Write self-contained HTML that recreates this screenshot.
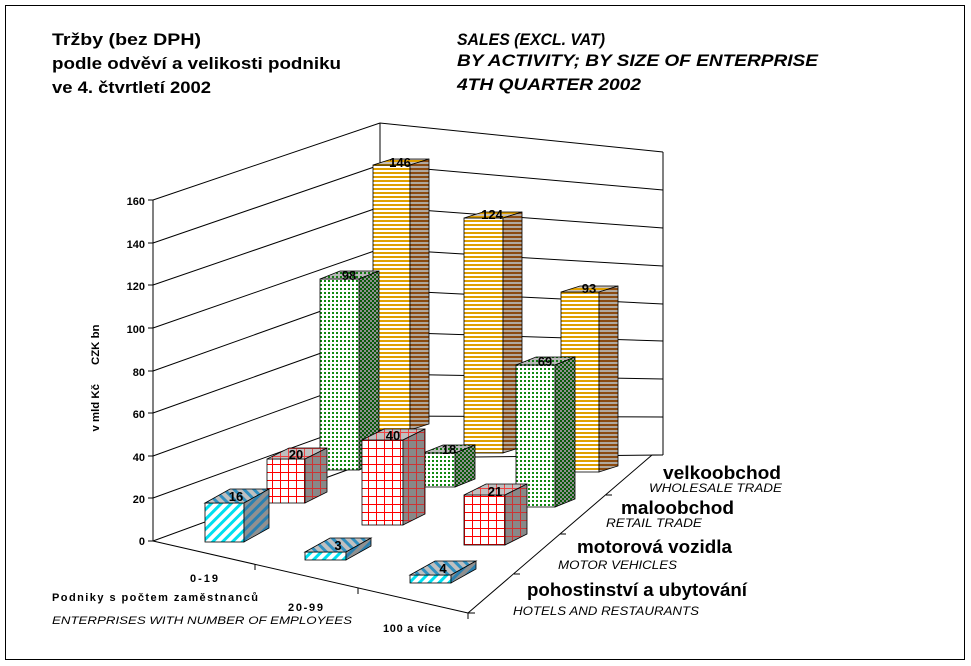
<!DOCTYPE html>
<html><head><meta charset="utf-8"><style>
html,body{margin:0;padding:0;background:#fff;width:971px;height:666px;overflow:hidden}
text{font-family:"Liberation Sans",sans-serif}
</style></head><body>
<svg width="971" height="666" viewBox="0 0 971 666" xmlns="http://www.w3.org/2000/svg">
<defs>
<pattern id="oF" width="4" height="4" patternUnits="userSpaceOnUse"><rect width="4" height="4" fill="#fff"/><rect width="4" height="2" fill="#e0a000"/></pattern>
<pattern id="oS" width="4" height="4" patternUnits="userSpaceOnUse"><rect width="4" height="4" fill="#b0a8a0"/><rect width="4" height="2" fill="#8a4a10"/></pattern>
<pattern id="oT" width="4" height="4" patternUnits="userSpaceOnUse"><rect width="4" height="4" fill="#c8c0b8"/><rect width="4" height="2" fill="#e0a000"/></pattern>
<pattern id="gF" width="4" height="4" patternUnits="userSpaceOnUse"><rect width="4" height="4" fill="#fff"/><rect width="2" height="2" fill="#118811"/></pattern>
<pattern id="gS" width="4" height="4" patternUnits="userSpaceOnUse"><rect width="4" height="4" fill="#909090"/><rect width="2" height="2" fill="#0a5a0a"/><rect x="2" y="2" width="2" height="2" fill="#0a5a0a"/></pattern>
<pattern id="gT" width="4" height="4" patternUnits="userSpaceOnUse"><rect width="4" height="4" fill="#b8b8b8"/><rect width="2" height="2" fill="#117711"/></pattern>
<pattern id="rF" width="8" height="8" patternUnits="userSpaceOnUse"><rect width="8" height="8" fill="#fff"/><rect width="8" height="1" fill="#f00"/><rect width="1" height="8" fill="#f00"/></pattern>
<pattern id="rS" width="8" height="8" patternUnits="userSpaceOnUse"><rect width="8" height="8" fill="#888"/><rect width="8" height="1" fill="#c33"/><rect width="1" height="8" fill="#c33"/></pattern>
<pattern id="rT" width="8" height="8" patternUnits="userSpaceOnUse"><rect width="8" height="8" fill="#c0c0c0"/><rect width="8" height="1" fill="#e44"/><rect width="1" height="8" fill="#e44"/></pattern>
<pattern id="cF" width="7" height="7" patternUnits="userSpaceOnUse" patternTransform="rotate(45)"><rect width="7" height="7" fill="#fff"/><rect width="3" height="7" fill="#00e0f0"/></pattern>
<pattern id="cS" width="7" height="7" patternUnits="userSpaceOnUse" patternTransform="rotate(45)"><rect width="7" height="7" fill="#909090"/><rect width="3" height="7" fill="#2a80b0"/></pattern>
<pattern id="cT" width="7" height="7" patternUnits="userSpaceOnUse" patternTransform="rotate(-45)"><rect width="7" height="7" fill="#c0c0c0"/><rect width="3" height="7" fill="#3090c0"/></pattern>
</defs>
<rect x="5.5" y="5.5" width="959" height="654" fill="#fff" stroke="#000"/>
<g stroke="#000" stroke-width="1" fill="none">
<line x1="153" y1="541" x2="380" y2="458"/>
<line x1="153" y1="498" x2="380" y2="416"/>
<line x1="153" y1="456" x2="380" y2="374"/>
<line x1="153" y1="413" x2="380" y2="332"/>
<line x1="153" y1="371" x2="380" y2="290"/>
<line x1="153" y1="328" x2="380" y2="249"/>
<line x1="153" y1="285" x2="380" y2="207"/>
<line x1="153" y1="243" x2="380" y2="165"/>
<line x1="153" y1="200" x2="380" y2="123"/>
<line x1="380" y1="458" x2="663" y2="455"/>
<line x1="380" y1="416" x2="663" y2="417"/>
<line x1="380" y1="374" x2="663" y2="379"/>
<line x1="380" y1="332" x2="663" y2="341"/>
<line x1="380" y1="290" x2="663" y2="304"/>
<line x1="380" y1="249" x2="663" y2="266"/>
<line x1="380" y1="207" x2="663" y2="228"/>
<line x1="380" y1="165" x2="663" y2="190"/>
<line x1="380" y1="123" x2="663" y2="152"/>
<line x1="153" y1="200" x2="153" y2="541"/>
<line x1="380" y1="123" x2="380" y2="458"/>
<line x1="663" y1="152" x2="663" y2="455"/>
<line x1="153" y1="541" x2="468" y2="613"/>
<line x1="468" y1="613" x2="652" y2="455"/>
<line x1="652" y1="455" x2="663" y2="455"/>
<line x1="148" y1="541" x2="153" y2="541"/><line x1="148" y1="498" x2="153" y2="498"/><line x1="148" y1="456" x2="153" y2="456"/><line x1="148" y1="413" x2="153" y2="413"/><line x1="148" y1="371" x2="153" y2="371"/><line x1="148" y1="328" x2="153" y2="328"/><line x1="148" y1="285" x2="153" y2="285"/><line x1="148" y1="243" x2="153" y2="243"/><line x1="148" y1="200" x2="153" y2="200"/>
<line x1="255" y1="564" x2="255" y2="570"/><line x1="358" y1="588" x2="358" y2="594"/><line x1="468" y1="613" x2="468" y2="619"/>
<line x1="468" y1="613" x2="475" y2="613"/><line x1="514" y1="574" x2="520" y2="574"/><line x1="560" y1="534" x2="566" y2="534"/><line x1="606" y1="495" x2="612" y2="495"/>
</g>
<g font-size="11" font-weight="bold" text-anchor="end">
<text x="145" y="545">0</text><text x="145" y="503">20</text><text x="145" y="461">40</text><text x="145" y="418">60</text><text x="145" y="376">80</text><text x="145" y="333">100</text><text x="145" y="290">120</text><text x="145" y="248">140</text><text x="145" y="205">160</text>
</g>
<text transform="translate(99,378) rotate(-90)" font-size="11" font-weight="bold" text-anchor="middle" textLength="107" lengthAdjust="spacingAndGlyphs" xml:space="preserve">v mld Kč      CZK bn</text>

<g stroke="#000" stroke-width="0.8">
<rect x="373" y="165" width="37" height="265" fill="url(#oF)"/><polygon points="373,165 410,165 429,159 392,159" fill="url(#oT)"/><polygon points="410,165 429,159 429,424 410,430" fill="url(#oS)"/>
<rect x="464" y="218" width="39" height="235" fill="url(#oF)"/><polygon points="464,218 503,218 522,212 483,212" fill="url(#oT)"/><polygon points="503,218 522,212 522,447 503,453" fill="url(#oS)"/>
<rect x="561" y="292" width="38" height="180" fill="url(#oF)"/><polygon points="561,292 599,292 618,286 580,286" fill="url(#oT)"/><polygon points="599,292 618,286 618,466 599,472" fill="url(#oS)"/>
<rect x="320" y="279" width="39" height="191" fill="url(#gF)"/><polygon points="320,279 359,279 379,271 340,271" fill="url(#gT)"/><polygon points="359,279 379,271 379,462 359,470" fill="url(#gS)"/>
<rect x="423" y="453" width="32" height="34" fill="url(#gF)"/><polygon points="423,453 455,453 475,445 443,445" fill="url(#gT)"/><polygon points="455,453 475,445 475,479 455,487" fill="url(#gS)"/>
<rect x="516" y="365" width="39" height="142" fill="url(#gF)"/><polygon points="516,365 555,365 575,357 536,357" fill="url(#gT)"/><polygon points="555,365 575,357 575,499 555,507" fill="url(#gS)"/>
<rect x="267" y="459" width="38" height="44" fill="url(#rF)"/><polygon points="267,459 305,459 327,448 289,448" fill="url(#rT)"/><polygon points="305,459 327,448 327,492 305,503" fill="url(#rS)"/>
<rect x="362" y="440" width="41" height="85" fill="url(#rF)"/><polygon points="362,440 403,440 425,429 384,429" fill="url(#rT)"/><polygon points="403,440 425,429 425,514 403,525" fill="url(#rS)"/>
<rect x="464" y="495" width="41" height="50" fill="url(#rF)"/><polygon points="464,495 505,495 527,484 486,484" fill="url(#rT)"/><polygon points="505,495 527,484 527,534 505,545" fill="url(#rS)"/>
<rect x="205" y="503" width="39" height="39" fill="url(#cF)"/><polygon points="205,503 244,503 269,489 230,489" fill="url(#cT)"/><polygon points="244,503 269,489 269,528 244,542" fill="url(#cS)"/>
<rect x="305" y="552" width="41" height="8" fill="url(#cF)"/><polygon points="305,552 346,552 371,538 330,538" fill="url(#cT)"/><polygon points="346,552 371,538 371,546 346,560" fill="url(#cS)"/>
<rect x="410" y="575" width="41" height="8" fill="url(#cF)"/><polygon points="410,575 451,575 476,561 435,561" fill="url(#cT)"/><polygon points="451,575 476,561 476,569 451,583" fill="url(#cS)"/>
</g>
<g font-size="13" font-weight="bold" text-anchor="middle">
<text x="400" y="167">146</text><text x="492" y="219">124</text><text x="589" y="293">93</text>
<text x="349" y="280">98</text><text x="449" y="454">18</text><text x="545" y="366">69</text>
<text x="296" y="459">20</text><text x="393" y="440">40</text><text x="495" y="496">21</text>
<text x="236" y="501">16</text><text x="338" y="550">3</text><text x="443" y="573">4</text>
</g>
<g font-size="11" font-weight="bold" lengthAdjust="spacingAndGlyphs">
<text x="190" y="582" textLength="28">0-19</text><text x="288" y="611" textLength="35">20-99</text><text x="383" y="632" textLength="58">100 a více</text>
<text x="52" y="601" textLength="206">Podniky s počtem zaměstnanců</text>
</g>
<text x="52" y="624" font-size="11" font-style="italic" textLength="300" lengthAdjust="spacingAndGlyphs">ENTERPRISES WITH NUMBER OF EMPLOYEES</text>
<g font-weight="bold" font-size="18">
<text x="663" y="479" textLength="118" lengthAdjust="spacingAndGlyphs">velkoobchod</text>
<text x="621" y="514" textLength="113" lengthAdjust="spacingAndGlyphs">maloobchod</text>
<text x="577" y="553" textLength="155" lengthAdjust="spacingAndGlyphs">motorová vozidla</text>
<text x="527" y="596" textLength="220" lengthAdjust="spacingAndGlyphs">pohostinství a ubytování</text>
</g>
<g font-style="italic" font-size="12">
<text x="649" y="492" textLength="133" lengthAdjust="spacingAndGlyphs">WHOLESALE TRADE</text>
<text x="606" y="527" textLength="96" lengthAdjust="spacingAndGlyphs">RETAIL TRADE</text>
<text x="558" y="569" textLength="119" lengthAdjust="spacingAndGlyphs">MOTOR VEHICLES</text>
<text x="513" y="615" textLength="186" lengthAdjust="spacingAndGlyphs">HOTELS AND RESTAURANTS</text>
</g>
<g font-weight="bold" font-size="17">
<text x="52" y="45" textLength="149" lengthAdjust="spacingAndGlyphs">Tržby (bez DPH)</text>
<text x="52" y="69" textLength="289" lengthAdjust="spacingAndGlyphs">podle odvěví a velikosti podniku</text>
<text x="52" y="93" textLength="159" lengthAdjust="spacingAndGlyphs">ve 4. čtvrtletí 2002</text>
</g>
<g font-weight="bold" font-style="italic" font-size="17">
<text x="457" y="45" textLength="148" lengthAdjust="spacingAndGlyphs">SALES (EXCL. VAT)</text>
<text x="457" y="66" textLength="361" lengthAdjust="spacingAndGlyphs">BY ACTIVITY; BY SIZE OF ENTERPRISE</text>
<text x="457" y="90" textLength="184" lengthAdjust="spacingAndGlyphs">4TH QUARTER 2002</text>
</g>
</svg>
</body></html>
